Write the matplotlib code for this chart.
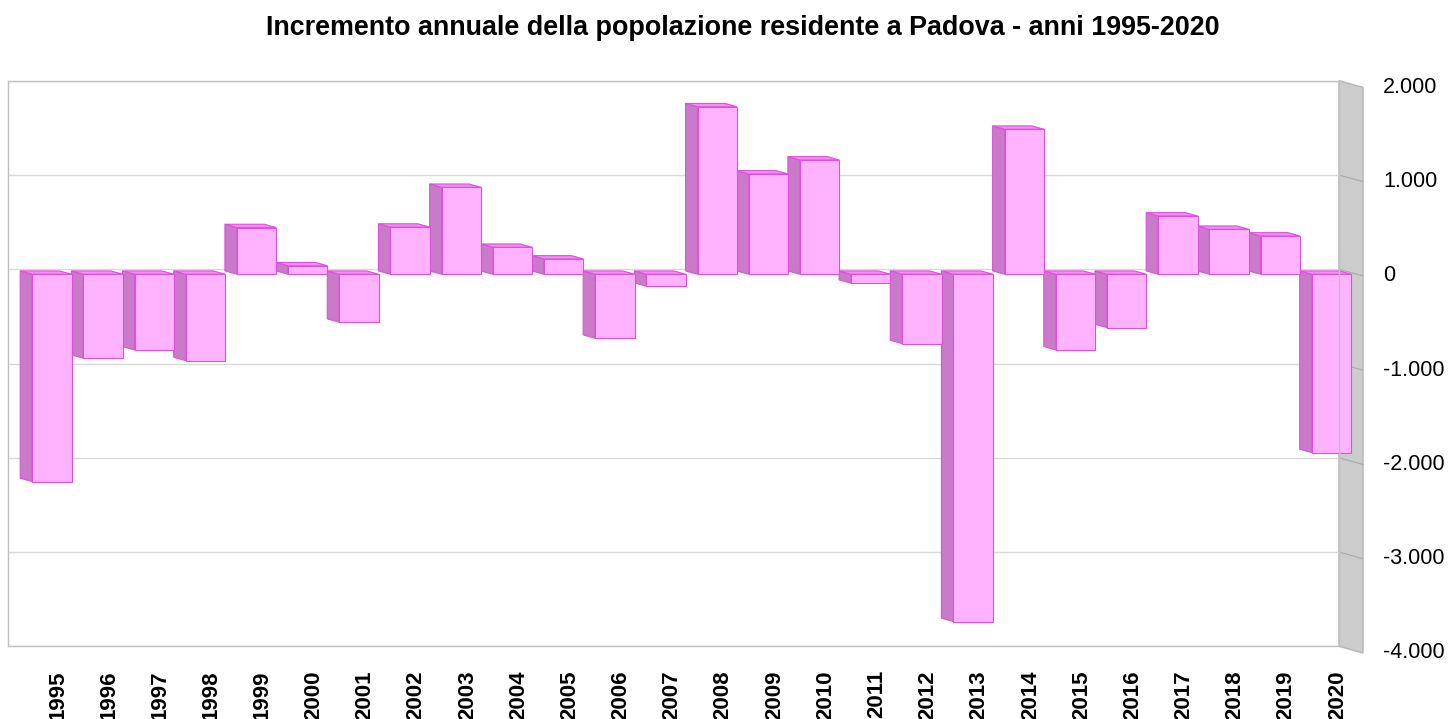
import numpy as np
import matplotlib
matplotlib.use("Agg")
import matplotlib.pyplot as plt
from matplotlib.patches import Polygon, Rectangle

plt.rcParams['font.family'] = ['Liberation Sans', 'DejaVu Sans']

# data
years = ["1995", "1996", "1997", "1998", "1999", "2000", "2001", "2002", "2003",
         "2004", "2005", "2006", "2007", "2008", "2009", "2010", "2011", "2012",
         "2013", "2014", "2015", "2016", "2017", "2018", "2019", "2020"]
increments = [-2199, -891, -803, -916, 495, 90, -509, 500, 922,
              286, 162, -679, -127, 1777, 1064, 1212, -95, -736,
              -3684, 1538, -803, -566, 618, 477, 406, -1892]
ticks = [2000, 1000, 0, -1000, -2000, -3000, -4000]
title = "Incremento annuale della popolazione residente a Padova - anni 1995-2020"

# colours
front_col = "#FFB3FF"
side_col = "#C97AC9"
top_col = "#F090F0"
edge_col = "#E04FE0"
wall_col = "#CCCCCC"
grid_col = "#D9D9D9"

W, H = 1449, 719
fig = plt.figure(figsize=(W / 100, H / 100), dpi=100)

# back wall of the pseudo-3d box (pixel layout of the original)
left, right, top, bottom = 8.3, 1339.0, 80.7, 646.3
ax = fig.add_axes([left / W, 1 - bottom / H, (right - left) / W, (bottom - top) / H])
n = len(years)
ax.set_xlim(0, n)
ax.set_ylim(ticks[-1], ticks[0])
ax.set_yticks(ticks)
ax.grid(axis='y', color=grid_col, lw=1.0, zorder=0)
ax.tick_params(left=False, labelleft=False, bottom=False, labelbottom=False)
for s in ax.spines.values():
    s.set_color("#C0C0C0")
    s.set_linewidth(1.0)

px_x = (right - left) / n
px_y = (bottom - top) / (ticks[0] - ticks[-1])


def shift(d):
    # depth d (0 = back wall, 1 = front) -> offset in data units
    return d * 24 / px_x, -d * 6.7 / px_y


dx1, dy1 = shift(1)

# right side wall
ymin, ymax = ticks[-1], ticks[0]
wall = Polygon([(n, ymax), (n + dx1, ymax + dy1), (n + dx1, ymin + dy1), (n, ymin)],
               closed=True, facecolor=wall_col, edgecolor="#B5B5B5", lw=1.0,
               clip_on=False, zorder=1)
ax.add_patch(wall)
for t in ticks[1:-1]:
    ax.plot([n, n + dx1], [t, t + dy1], color="#AAAAAA", lw=0.8,
            clip_on=False, zorder=1.5)

# bars, drawn right to left so the left ones sit in front
w = 0.77
bx, by = shift(0.25)
fx, fy = shift(0.75)
for i in reversed(range(n)):
    v = increments[i]
    x0 = i + 0.5 - w / 2
    x1 = x0 + w
    z = 2 + (n - i) * 0.01
    side = Polygon([(x0 + bx, by), (x0 + fx, fy), (x0 + fx, v + fy), (x0 + bx, v + by)],
                   closed=True, facecolor=side_col, edgecolor=edge_col, lw=0.8,
                   clip_on=False, zorder=z)
    lvl = max(v, 0)
    topf = Polygon([(x0 + bx, lvl + by), (x1 + bx, lvl + by), (x1 + fx, lvl + fy),
                    (x0 + fx, lvl + fy)],
                   closed=True, facecolor=top_col, edgecolor=edge_col, lw=0.8,
                   clip_on=False, zorder=z)
    front = Rectangle((x0 + fx, min(v, 0) + fy), w, abs(v),
                      facecolor=front_col, edgecolor=edge_col, lw=0.8,
                      clip_on=False, zorder=z)
    ax.add_patch(side)
    ax.add_patch(topf)
    ax.add_patch(front)

# value labels on the right
lab_x = n + dx1 + 20 / px_x
for t in ticks:
    ax.text(lab_x, t + dy1, f"{t:,}".replace(",", "."), ha='left', va='center',
            fontsize=15.5, clip_on=False)

# year labels under the bars (cut at the bottom edge, as in the original)
yr_y = ymin - (670 - bottom) / px_y
for i, yr in enumerate(years):
    ax.text(i + 0.5 + dx1, yr_y, yr, rotation=90, ha='center', va='top',
            fontsize=16, fontweight='bold', clip_on=False)

fig.text(742.5 / W, 1 - 28 / H, title, ha='center', va='center',
         fontsize=19.4, fontweight='bold')

fig.savefig("out.png", dpi=100)
